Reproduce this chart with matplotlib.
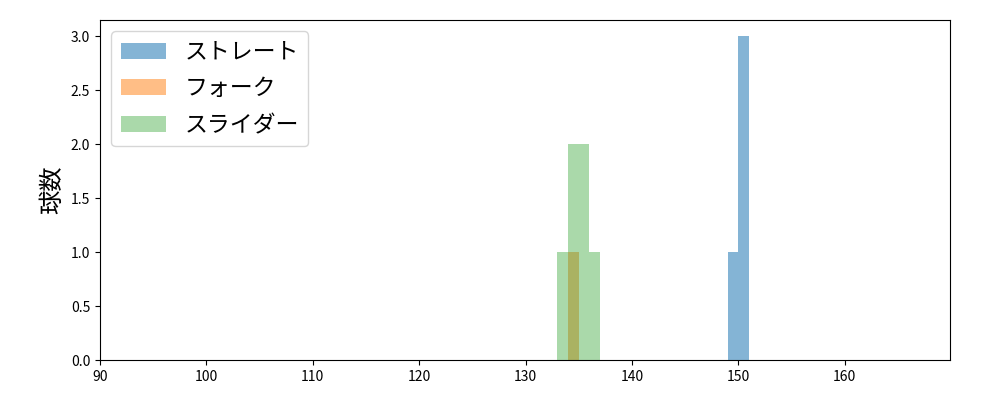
import numpy as np
import matplotlib
matplotlib.use("Agg")
import matplotlib.pyplot as plt

plt.rcParams['font.family'] = ['Noto Sans CJK JP', 'DejaVu Sans']

# 球速データ (km/h)
labels = ['ストレート', 'フォーク', 'スライダー']
straight = [149.5, 150.5, 150.5, 150.5]
fork = [134.5]
slider = [133.5, 134.5, 134.5, 135.5, 135.5, 136.5]
series = [straight, fork, slider]
colors = ['tab:blue', 'tab:orange', 'tab:green']
alphas = [0.55, 0.5, 0.4]

fig = plt.figure(figsize=(10, 4), dpi=100)
ax = fig.add_subplot(111)
fig.subplots_adjust(left=0.1, right=0.95, top=0.95, bottom=0.1)

for data, lab, c, a in zip(series, labels, colors, alphas):
    lo = int(np.floor(min(data)))
    hi = int(np.ceil(max(data)))
    ax.hist(data, bins=np.arange(lo, hi + 1), color=c, alpha=a, label=lab)

ax.set_xlim(90, 169.9)
ax.set_ylabel('球数', fontsize=17.5)
ax.legend(fontsize=16.5, loc='upper left', labelspacing=0.6)
fig.savefig('out.png')
